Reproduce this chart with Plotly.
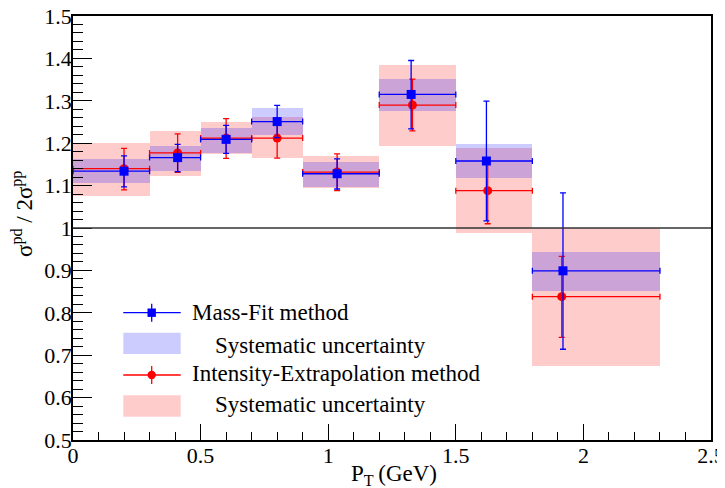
import plotly.graph_objects as go

# ---- data ----
bin_low = [0.0, 0.3, 0.5, 0.7, 0.9, 1.2, 1.5, 1.8]
bin_high = [0.3, 0.5, 0.7, 0.9, 1.2, 1.5, 1.8, 2.3]

mf_x = [0.20, 0.41, 0.60, 0.80, 1.035, 1.325, 1.62, 1.92]
mf_y = [1.134, 1.166, 1.209, 1.251, 1.128, 1.315, 1.158, 0.899]
mf_stat_hi = [1.170, 1.197, 1.242, 1.289, 1.163, 1.395, 1.299, 1.083]
mf_stat_lo = [1.097, 1.133, 1.176, 1.213, 1.092, 1.234, 1.017, 0.714]
mf_sys_hi = [1.163, 1.194, 1.237, 1.283, 1.156, 1.351, 1.198, 0.943]
mf_sys_lo = [1.105, 1.135, 1.176, 1.219, 1.097, 1.276, 1.119, 0.852]

ie_x = [0.20, 0.41, 0.60, 0.80, 1.035, 1.33, 1.625, 1.915]
ie_y = [1.140, 1.177, 1.212, 1.212, 1.132, 1.290, 1.088, 0.838]
ie_stat_hi = [1.188, 1.222, 1.258, 1.259, 1.175, 1.351, 1.165, 0.933]
ie_stat_lo = [1.090, 1.131, 1.164, 1.165, 1.088, 1.229, 1.010, 0.742]
ie_sys_hi = [1.200, 1.229, 1.249, 1.262, 1.170, 1.384, 1.189, 1.000]
ie_sys_lo = [1.075, 1.123, 1.174, 1.165, 1.094, 1.193, 0.989, 0.675]

legend_labels = ["Mass-Fit method", "Systematic uncertainty",
                 "Intensity-Extrapolation method", "Systematic uncertainty"]

# ---- styling ----
FONT = "Liberation Serif"
BLUE = "#0000ff"
RED = "#ff0000"
BLUE_FILL = "rgba(0,0,255,0.2)"
RED_FILL = "rgba(255,0,0,0.2)"

# page has an 8px body margin; plot area on screen: x 73..711, y 16..440
OFF = 8
W, H = 725 - OFF, 488 - OFF
ML, MT = 73 - OFF, 16 - OFF
PW, PH = 638, 424
MR, MB = W - ML - PW, H - MT - PH


def px(sx):
    return (sx - 73) / PW


def py(sy):
    return (440 - sy) / PH


centers = [(a + b) / 2 for a, b in zip(bin_low, bin_high)]
widths = [b - a for a, b in zip(bin_low, bin_high)]

fig = go.Figure()

fig.add_trace(go.Bar(x=centers, y=[h - l for h, l in zip(ie_sys_hi, ie_sys_lo)], base=ie_sys_lo,
                     width=widths, marker=dict(color=RED_FILL, line=dict(width=0)),
                     showlegend=False, hoverinfo="skip"))
fig.add_trace(go.Bar(x=centers, y=[h - l for h, l in zip(mf_sys_hi, mf_sys_lo)], base=mf_sys_lo,
                     width=widths, marker=dict(color=BLUE_FILL, line=dict(width=0)),
                     showlegend=False, hoverinfo="skip"))


def points(xs, ys, hi, lo, color, symbol, size):
    return go.Scatter(
        x=xs, y=ys, mode="markers",
        marker=dict(color=color, symbol=symbol, size=size, line=dict(width=0)),
        error_x=dict(type="data", symmetric=False,
                     array=[b - x for b, x in zip(bin_high, xs)],
                     arrayminus=[x - a for a, x in zip(bin_low, xs)],
                     color=color, thickness=1.3, width=3),
        error_y=dict(type="data", symmetric=False,
                     array=[h - y for h, y in zip(hi, ys)],
                     arrayminus=[y - l for l, y in zip(lo, ys)],
                     color=color, thickness=1.3, width=3),
        showlegend=False,
    )


fig.add_trace(points(ie_x, ie_y, ie_stat_hi, ie_stat_lo, RED, "circle", 9))
fig.add_trace(points(mf_x, mf_y, mf_stat_hi, mf_stat_lo, BLUE, "square", 9))

shapes = []
shapes.append(dict(type="line", xref="paper", yref="y", x0=0, x1=1, y0=1, y1=1,
                   line=dict(color="#333333", width=1.3), layer="above"))

lx0, lx1, lxc = 123.3, 180.7, 151.7
for yy, col, sym in [(312.7, BLUE, "square"), (375.0, RED, "circle")]:
    shapes.append(dict(type="line", xref="paper", yref="paper", x0=px(lx0), x1=px(lx1),
                       y0=py(yy), y1=py(yy), line=dict(color=col, width=1.3)))
    shapes.append(dict(type="line", xref="paper", yref="paper", x0=px(lxc), x1=px(lxc),
                       y0=py(yy - 9), y1=py(yy + 9), line=dict(color=col, width=1.3)))
    r = 4.2
    shapes.append(dict(type="rect" if sym == "square" else "circle", xref="paper", yref="paper",
                       x0=px(lxc - r), x1=px(lxc + r), y0=py(yy - r), y1=py(yy + r),
                       fillcolor=col, line=dict(width=0)))
for y0, y1, col in [(332.7, 354.0, BLUE_FILL), (395.3, 416.7, RED_FILL)]:
    shapes.append(dict(type="rect", xref="paper", yref="paper", x0=px(lx0), x1=px(lx1),
                       y0=py(y0), y1=py(y1), fillcolor=col, line=dict(width=0)))

annotations = []
for (tx, ty), txt in zip([(190.0, 312.5), (212.5, 345.5), (190.0, 373.3), (212.5, 404.0)], legend_labels):
    annotations.append(dict(xref="paper", yref="paper", x=px(tx), y=py(ty), text=txt,
                            xanchor="left", yanchor="middle", showarrow=False,
                            font=dict(family=FONT, size=23, color="black")))

annotations.append(dict(xref="paper", yref="paper", x=px(23), y=py(214),
                        text="σ<sup>pd</sup> / 2σ<sup>pp</sup>", textangle=-90,
                        xanchor="center", yanchor="middle", showarrow=False,
                        font=dict(family=FONT, size=23, color="black")))
annotations.append(dict(xref="paper", yref="paper", x=px(394), y=py(475),
                        text="P<sub>T</sub>\u2009(GeV)",
                        xanchor="center", yanchor="middle", showarrow=False,
                        font=dict(family=FONT, size=23, color="black")))

fig.update_layout(
    width=W, height=H,
    margin=dict(l=ML, r=MR, t=MT, b=MB, autoexpand=False),
    paper_bgcolor="white", plot_bgcolor="white",
    barmode="overlay", bargap=0,
    font=dict(family=FONT, size=22, color="black"),
    shapes=shapes, annotations=annotations,
    showlegend=False,
)
fig.update_xaxes(
    range=[0, 2.5], dtick=0.5, tick0=0,
    ticks="inside", ticklen=16, tickwidth=1, tickcolor="black",
    minor=dict(dtick=0.1, ticks="inside", ticklen=8, tickcolor="black", tickwidth=1),
    showline=True, linecolor="black", linewidth=1.5, mirror=True,
    showgrid=False, zeroline=False, automargin=False,
    ticklabelstandoff=-5, ticklabeloverflow="allow",
    tickfont=dict(family=FONT, size=22),
)
fig.update_yaxes(
    range=[0.5, 1.5], dtick=0.1, tick0=0.5,
    ticks="inside", ticklen=19, tickwidth=1, tickcolor="black",
    minor=dict(dtick=0.02, ticks="inside", ticklen=10, tickcolor="black", tickwidth=1),
    showline=True, linecolor="black", linewidth=1.5, mirror=True,
    showgrid=False, zeroline=False, automargin=False,
    ticklabelstandoff=-5, ticklabeloverflow="allow",
    tickfont=dict(family=FONT, size=22),
)

fig.write_html("out.html")
